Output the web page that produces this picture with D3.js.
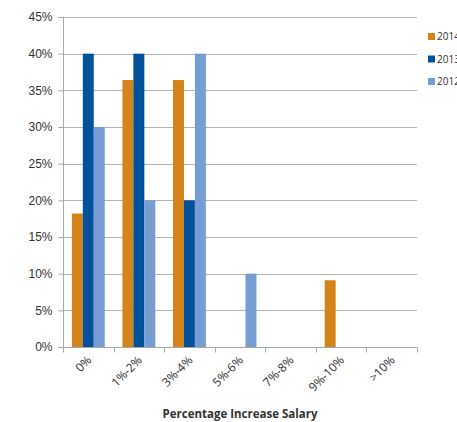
<!DOCTYPE html>
<html>
<head>
<meta charset="utf-8">
<script src="https://cdn.jsdelivr.net/npm/d3@7/dist/d3.min.js"></script>
<style>
  html, body { margin: 0; padding: 0; background: #fff; }
  svg { display: block; font-family: "Open Sans", "DejaVu Sans", sans-serif; }
</style>
</head>
<body>
<svg id="chart" width="457" height="422"></svg>
<script>
const categories = ["0%", "1%-2%", "3%-4%", "5%-6%", "7%-8%", "9%-10%", ">10%"];
const seriesNames = ["2014", "2013", "2012"];
const values2014 = [18.2, 36.4, 36.4, 0, 0, 9.1, 0];
const values2013 = [40, 40, 20, 0, 0, 0, 0];
const values2012 = [30, 20, 40, 10, 0, 0, 0];
const colors = ["#D4821A", "#00529B", "#759DD4"];
const yTicks = [0, 5, 10, 15, 20, 25, 30, 35, 40, 45];

const series = [values2014, values2013, values2012];
const svg = d3.select("#chart");

const plotLeft = 63, plotRight = 417, plotTop = 17, plotBottom = 347;

const x = d3.scaleBand().domain(categories).range([plotLeft, plotRight]).paddingInner(0.35).paddingOuter(0.175);
const xSub = d3.scaleBand().domain(seriesNames).range([0, x.bandwidth()]);
const y = d3.scaleLinear().domain([0, 45]).range([plotBottom, plotTop]);

// horizontal gridlines
svg.append("g")
  .selectAll("line")
  .data(yTicks.filter(d => d > 0))
  .join("line")
  .attr("x1", plotLeft).attr("x2", plotRight)
  .attr("y1", d => Math.round(y(d)) + 0.5).attr("y2", d => Math.round(y(d)) + 0.5)
  .attr("stroke", "#B4B4B4").attr("stroke-width", 1);

// bars
const groups = svg.append("g")
  .selectAll("g")
  .data(categories)
  .join("g")
  .attr("transform", d => `translate(${x(d)},0)`);

groups.selectAll("rect")
  .data((c, i) => seriesNames.map((s, k) => ({ s, k, v: series[k][i] })))
  .join("rect")
  .attr("x", d => xSub(d.s))
  .attr("width", xSub.bandwidth())
  .attr("y", d => y(d.v))
  .attr("height", d => y(0) - y(d.v))
  .attr("fill", d => colors[d.k]);

// y axis
const yAxis = d3.axisLeft(y).tickValues(yTicks).tickFormat(d => d + "%").tickSize(5).tickPadding(6);
const gy = svg.append("g").attr("transform", `translate(${plotLeft + 0.5},0)`).call(yAxis);
gy.select(".domain").attr("stroke", "#A8A8A8").attr("d", `M-5,${plotTop + 0.5}H0V${plotBottom + 0.5}H-5`);
gy.selectAll(".tick line").attr("stroke", "#A8A8A8");
gy.selectAll(".tick text").attr("font-size", 12).attr("fill", "#333");

// x axis
const xAxis = d3.axisBottom(x).tickSize(0).tickFormat("");
const gx = svg.append("g").attr("transform", `translate(0,${plotBottom + 0.5})`).call(xAxis);
gx.select(".domain").attr("stroke", "#A8A8A8").attr("d", `M${plotLeft},0H${plotRight}`);
const boundaries = d3.range(categories.length + 1).map(i => plotLeft + i * (plotRight - plotLeft) / categories.length);
gx.selectAll(".bound").data(boundaries).join("line")
  .attr("class", "bound")
  .attr("x1", d => Math.round(d) + 0.5).attr("x2", d => Math.round(d) + 0.5)
  .attr("y1", 0).attr("y2", 5)
  .attr("stroke", "#A8A8A8");

svg.append("g").selectAll("text")
  .data(categories)
  .join("text")
  .attr("transform", d => `translate(${x(d) + x.bandwidth() / 2 + 4},${plotBottom + 14}) rotate(-45)`)
  .attr("text-anchor", "end")
  .attr("font-size", 12)
  .attr("fill", "#333")
  .text(d => d);

// axis title
svg.append("text")
  .attr("x", (plotLeft + plotRight) / 2)
  .attr("y", 418)
  .attr("text-anchor", "middle")
  .attr("font-size", 11.5)
  .attr("font-weight", "bold")
  .attr("fill", "#333")
  .text("Percentage Increase Salary");

// legend
const legend = svg.append("g").attr("transform", "translate(428,33)");
const items = legend.selectAll("g").data(seriesNames).join("g")
  .attr("transform", (d, i) => `translate(0,${i * 22.5})`);
items.append("rect").attr("width", 7).attr("height", 7).attr("fill", (d, i) => colors[i]);
items.append("text").attr("x", 9).attr("y", 7).attr("font-size", 10).attr("fill", "#333").text(d => d);
</script>
</body>
</html>
